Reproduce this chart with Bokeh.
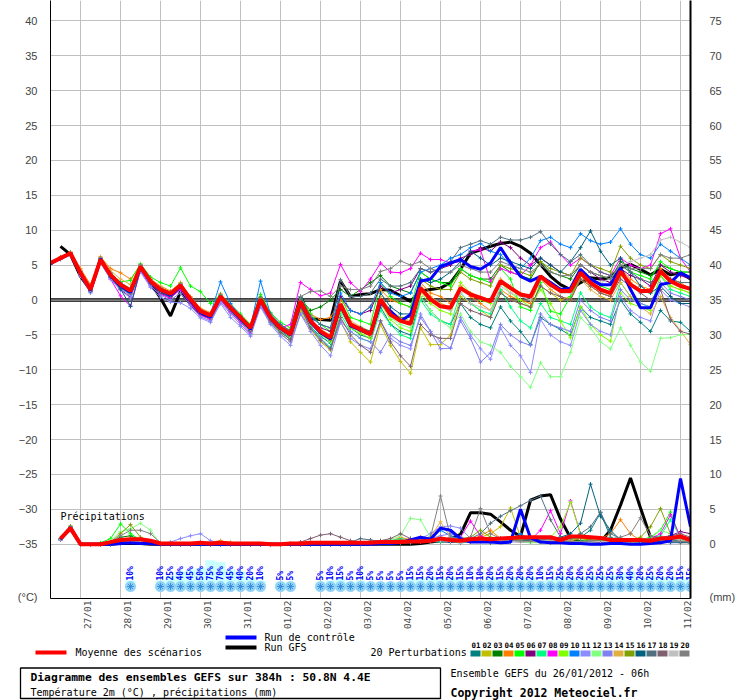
import math
from bokeh.plotting import figure
from bokeh.models import Range1d, FixedTicker, LinearAxis, Span
from bokeh.embed import file_html
from bokeh.resources import INLINE
from bokeh.core.properties import value

NAN = float("nan")
# time steps: hours since 26/01/2012 06h, every 6h up to 384h
hours = [6 * k for k in range(65)]
dates = ["27/01", "28/01", "29/01", "30/01", "31/01", "01/02", "02/02", "03/02",
         "04/02", "05/02", "06/02", "07/02", "08/02", "09/02", "10/02", "11/02"]
day_hours = [18 + 24 * i for i in range(16)]        # midnight of each day
y_ticks = list(range(-35, 41, 5))
mm_ticks = list(range(0, 76, 5))

# ---- temperatures (deg C) ----
mean_t = [5.3, 6.0, 6.7, 3.9, 1.5, 5.8, 3.6, 2.2, 1.3,
          4.8, 2.7, 1.5, 0.9, 2.1, 0.1, -1.6, -2.2, 0.5, -1.1, -2.5, -4.0,
          0.1, -2.5, -4.0, -4.9, -0.2, -3.0, -4.5, -5.4, -0.6, -3.5, -4.2, -4.9,
          0.1, -2.1, -3.0, -3.4, 1.7, 0.1, -0.9, -1.1, 1.7, 0.8, 0.3, -0.2, 2.7, 1.7, 0.8, 0.5,
          3.4, 2.2, 1.3, 1.3, 3.9, 2.5, 1.5, 1.0, 4.1, 2.2, 1.3, 1.3, 4.1, 2.7, 2.0, 1.6]
ctrl_t = [5.2, 6.0, 6.7, 3.8, 1.4, 5.9, 3.5, 2.0, 1.1,
          4.7, 2.6, 1.4, 0.7, 2.0, -0.1, -1.8, -2.4, 0.5, -1.2, -2.7, -4.2,
          0.0, -2.6, -4.1, -5.0, -0.4, -3.2, -4.7, -5.6, -0.8, -3.7, -4.3, -4.9,
          -0.4, -1.6, -3.0, -2.1, 2.7, 3.0, 4.8, 5.3, 5.8, 4.8, 4.4, 5.3, 7.5, 5.3, 3.4, 2.7,
          3.4, 2.5, 1.5, 1.7, 4.4, 3.0, 2.2, 2.2, 4.6, 1.5, -1.1, -1.1, 2.2, 2.5, 3.9, 3.2]
gfs_t = [NAN, 7.7, 6.5, 3.4, 1.4, 5.8, 3.4, 2.0, 1.0,
         4.6, 2.4, 0.3, -2.3, 1.2, -0.6, -2.0, -2.5, 0.3, -1.3, -2.8, -4.2,
         0.5, -2.8, -4.0, -4.5, 0.5, -2.7, -2.8, -2.9, 2.7, 0.5, 0.8, 0.9,
         1.5, 1.4, 0.6, -0.2, 1.3, 1.5, 1.7, 2.5, 4.4, 6.7, 7.2, 7.7, 8.1, 8.3, 7.7, 6.7,
         5.1, 3.4, 2.2, 1.5, 2.5, 3.2, 3.0, 3.2, 4.6, 5.1, 4.4, 3.6, 4.4, 3.6, 3.9, 3.0]

t01 = [5.2, 5.9, 6.6, 3.7, 1.3, 5.6, 3.3, 1.8, 0.8,
       4.5, 2.3, 1.0, 0.4, 1.6, -0.5, -2.0, -2.6, 0.0, -1.6, -3.0, -4.5,
       -0.5, -3.2, -4.6, -5.6, -1.2, -3.8, -5.2, -6.2, -1.5, -4.0, -5.0, -5.5,
       -1.0, -3.5, -4.5, -5.0, 0.5, -1.5, -3.0, -3.5, -0.5, -2.5, -3.5, -4.0, -1.0, -3.0, -4.5, -6.4,
       -2.5, -3.5, -4.2, -5.1, -1.0, -2.5, -3.0, -3.5, 0.0, -2.0, -3.2, -4.5, -1.5, -3.0, -3.2, -4.5]
t02 = [5.3, 6.1, 6.8, 4.2, 1.8, 6.0, 3.8, 2.4, 1.7,
       5.0, 3.0, 1.8, 1.2, 2.5, 0.4, -1.4, -2.0, 0.6, -1.3, -2.8, -4.4,
       -0.3, -3.0, -4.8, -6.0, -1.5, -4.2, -6.0, -7.2, -3.0, -6.0, -7.5, -8.9,
       -3.5, -6.5, -8.8, -10.5, -4.0, -6.4, -6.4, -5.0, 0.5, -0.5, -1.5, -2.5, 1.0, 0.0, -0.5, -1.0,
       2.0, 1.0, 0.0, 0.5, 3.0, 2.0, 1.0, 0.5, 3.5, 2.5, 1.5, 1.0, 3.5, 2.0, 1.5, 1.0]
t03 = [5.2, 6.0, 6.6, 3.8, 1.4, 5.7, 3.5, 2.1, 1.2,
       4.7, 2.6, 1.4, 0.8, 2.0, 0.0, -1.7, -2.3, 0.4, -1.2, -2.6, -4.1,
       0.0, -2.4, -3.8, -4.6, 0.2, -1.5, -1.0, 0.0, 1.5, 0.5, 1.5, 2.5,
       3.5, 2.0, 1.5, 1.0, 4.0, 3.0, 2.5, 2.5, 4.5, 3.5, 3.0, 3.0, 5.0, 4.0, 3.5, 3.0,
       5.5, 4.0, 3.5, 3.0, 5.0, 4.0, 3.5, 3.0, 5.5, 4.5, 4.0, 3.5, 5.0, 4.5, 4.0, 4.0]
t04 = [5.4, 6.2, 6.9, 4.5, 2.2, 6.2, 4.5, 3.9, 3.0,
       5.0, 3.0, 2.0, 1.3, 2.4, 0.5, -1.2, -1.8, 0.9, -0.8, -2.2, -3.6,
       0.4, -2.0, -3.5, -4.4, 0.0, -2.0, -2.8, -2.5, 0.0, -1.5, -2.0, -0.9,
       1.5, 0.0, -0.5, -1.0, 2.5, 1.0, 0.5, -0.5, 2.0, 0.5, -0.5, -1.5, 1.5, 0.5, 0.0, -0.5,
       3.0, 1.5, 0.5, 0.0, 3.5, 2.0, 1.0, 0.5, 4.5, 3.0, 2.0, 1.5, 4.5, 3.0, 2.5, 1.5]
t05 = [5.2, 5.9, 6.5, 3.6, 1.6, 5.9, 3.8, 2.6, 2.8,
       5.2, 3.3, 2.5, 2.0, 4.6, 2.0, 1.2, -0.5, 0.8, -0.6, -2.0, -3.5,
       0.8, -1.8, -3.2, -4.0, 0.5, -2.0, -3.5, -4.5, 0.5, -2.5, -3.0, -3.5,
       2.5, 0.5, -0.5, -1.0, 4.0, 3.0, 2.5, 2.0, 4.5, 3.5, 3.0, 2.5, 4.5, 3.0, -1.0, -1.5,
       2.5, -1.6, -2.0, 0.5, 3.5, 3.0, 2.0, 1.5, 5.0, 4.0, 3.5, 3.0, 5.5, 4.5, 4.0, 4.0]
t06 = [5.3, 6.0, 6.7, 3.8, 1.3, 5.7, 3.2, 1.5, 0.4,
       4.6, 2.4, 1.0, 0.2, 1.8, -0.4, -2.0, -2.6, 0.2, -1.4, -2.9, -4.4,
       -0.2, -2.8, -4.4, -5.4, -0.8, -3.2, -4.0, -4.5, 0.5, -1.5, -2.0, -1.5,
       2.0, 1.0, 1.5, 2.0, 4.5, 4.0, 4.5, 5.0, 6.0, 6.5, 7.5, 7.0, 8.3, 7.5, 6.0, 5.0,
       6.0, 5.0, 4.0, 3.5, 5.0, 4.0, 3.0, 2.5, 4.5, 3.5, 3.0, 2.0, 5.0, 4.0, 3.5, 3.0]
t07 = [5.2, 6.0, 6.5, 3.6, 1.3, 5.5, 3.3, 1.9, 1.0,
       4.4, 2.4, 1.2, 0.6, 1.8, -0.3, -1.9, -2.5, 0.2, -1.5, -2.9, -4.6,
       -0.4, -3.0, -4.5, -5.5, -1.0, -3.8, -5.5, -6.8, -2.0, -4.5, -5.5, -6.0,
       -1.5, -3.5, -5.0, -5.5, 0.0, -2.0, -3.0, -3.5, 1.0, -0.5, -1.5, -2.0, 1.5, -1.0, -3.0, -4.0,
       -0.5, -2.5, -3.0, -3.5, 1.0, -1.0, -2.0, -2.5, 2.5, 0.5, -0.5, -1.0, 3.5, 1.5, 1.0, 0.5]
t08 = [5.2, 5.9, 6.6, 3.5, 1.2, 5.4, 3.0, 0.6, -0.9,
       4.2, 2.0, 0.8, 0.3, 1.5, -0.6, -2.2, -2.8, 0.0, -1.8, -3.2, -4.8,
       -0.6, -3.0, -4.0, -3.5, 2.5, 1.5, 0.6, 1.0, 5.1, 2.5, 1.2, 3.0,
       5.3, 4.0, 3.9, 4.5, 6.7, 5.8, 5.8, 5.3, 5.5, 7.0, 7.2, 2.7, 4.5, 4.0, 3.5, 5.0,
       7.5, 8.3, 6.5, 5.0, 6.0, 5.0, 4.0, 3.5, 6.0, 5.0, 4.5, 5.0, 9.5, 10.2, 6.0, 4.0]
t09 = [5.3, 6.1, 6.7, 4.0, 1.6, 5.9, 3.7, 2.3, 1.4,
       4.9, 2.8, 1.6, 1.0, 2.3, 0.2, -1.5, -2.1, 0.6, -1.0, -2.4, -3.9,
       0.2, -2.3, -3.9, -4.8, -0.3, -3.0, -4.8, -6.0, -1.5, -4.0, -4.8, -5.5,
       -0.5, -2.8, -4.0, -4.5, 1.0, -0.5, -1.5, -2.0, 2.5, 1.0, 0.0, -0.5, 2.5, 1.0, 0.0, -1.0,
       1.5, -0.5, -3.0, -5.4, -1.0, -3.5, -5.0, -5.9, 1.0, -0.5, -1.0, -1.5, 3.5, 2.0, 1.5, 1.0]
t10 = [5.3, 6.0, 6.8, 4.0, 1.5, 6.0, 3.7, 2.3, 1.2,
       5.0, 2.8, 1.5, 0.9, 2.2, 0.0, -1.5, -2.0, 2.6, -0.5, -2.3, -3.8,
       2.7, -2.0, -3.5, -4.5, 0.5, -2.5, -3.5, -4.0, 1.0, -1.5, -2.0, -1.0,
       2.5, 1.0, 0.5, 1.0, 4.0, 4.5, 5.0, 6.0, 6.5, 7.5, 8.1, 7.0, 6.5, 5.0, 4.5, 6.0,
       8.5, 9.0, 8.0, 7.5, 9.5, 8.5, 8.0, 8.3, 10.2, 8.0, 6.5, 6.0, 8.0, 7.0, 6.0, 5.0]
t11 = [5.1, 5.8, 6.4, 3.4, 1.0, 5.3, 3.0, 1.4, 0.3,
       4.0, 1.8, 0.4, -0.3, -0.4, -1.2, -2.6, -3.2, -0.5, -2.5, -3.8, -5.2,
       -1.0, -3.5, -5.2, -6.5, -2.0, -4.5, -6.5, -8.0, -3.2, -5.5, -6.5, -7.0,
       -3.0, -5.5, -6.5, -7.0, -2.0, -4.5, -6.0, -6.9, -2.5, -5.0, -7.0, -8.5, -4.0, -6.5, -8.0, -10.4,
       -2.8, -5.0, -6.0, -6.5, -1.5, -3.5, -4.5, -5.0, 0.5, -1.5, -2.5, -3.0, 1.5, 0.0, -0.5, -1.0]
t12 = [5.3, 6.0, 6.6, 3.8, 1.5, 5.8, 3.6, 2.2, 1.4,
       4.8, 2.7, 1.5, 0.8, 2.0, 0.0, -1.7, -2.3, 0.4, -1.2, -2.7, -4.2,
       -0.2, -2.8, -4.3, -5.3, -0.8, -3.5, -5.0, -6.0, -1.5, -3.8, -4.5, -5.0,
       -0.5, -2.5, -3.5, -4.0, 0.5, -1.5, -3.0, -4.0, -2.0, -4.5, -6.0, -6.5, -7.5, -9.5, -11.0, -12.5,
       -9.0, -11.0, -11.0, -7.5, -2.5, -4.0, -6.0, -7.0, -4.0, -6.5, -8.9, -10.2, -5.5, -5.4, -5.0, -4.9]
t13 = [5.2, 5.9, 6.5, 3.6, 1.1, 5.5, 3.2, 1.6, 0.7,
       4.3, 2.1, 0.7, 0.0, 1.0, -0.8, -2.4, -3.0, -0.3, -2.0, -3.5, -5.0,
       -0.8, -3.3, -4.9, -6.0, -2.0, -4.0, -5.5, -7.0, -3.0, -4.5, -5.5, -6.0,
       -7.5, -5.0, -6.0, -6.5, -2.5, -4.5, -7.0, -6.9, -3.0, -5.5, -8.9, -7.6, -3.5, -5.0, -6.0, -6.5,
       -2.0, -3.5, -4.0, -4.5, 0.0, -1.5, -2.5, -3.0, 1.5, 0.0, -0.5, -1.0, 2.5, 1.0, 0.5, 0.0]
t14 = [5.4, 6.1, 6.8, 4.3, 2.0, 6.1, 4.2, 3.0, 2.2,
       5.1, 3.0, 1.9, 1.2, 2.4, 0.3, -1.3, -1.9, 0.7, -0.9, -2.3, -3.8,
       0.3, -2.2, -3.7, -4.7, -0.4, -3.0, -4.2, -5.0, -0.5, -3.0, -3.8, -4.5,
       0.5, -1.5, -2.5, -3.0, 2.0, 0.5, -0.5, -1.0, 2.0, 1.0, 0.5, 0.0, 3.0, 2.0, 1.0, 0.5,
       3.0, 1.5, 0.5, 0.0, 3.0, 1.5, 0.5, 0.0, 2.5, 0.5, -1.0, -2.0, 0.5, -2.5, -4.4, -6.4]
t15 = [5.3, 6.0, 6.7, 3.9, 1.6, 5.8, 3.5, 2.0, 1.0,
       4.7, 2.6, 1.3, 0.7, 1.9, -0.1, -1.8, -2.4, 0.3, -1.3, -2.7, -4.3,
       -0.1, -2.7, -4.2, -5.2, -0.6, -3.3, -4.8, -5.8, -1.2, -3.8, -4.5, -5.2,
       0.0, -2.0, -2.5, -2.5, 3.0, 2.0, 1.5, 1.5, 4.0, 3.0, 2.5, 2.0, 5.0, 4.5, 4.0, 3.5,
       5.5, 4.5, 4.0, 3.5, 6.0, 5.0, 4.5, 4.0, 7.7, 6.0, 5.0, 4.5, 6.5, 5.5, 5.0, 4.5]
t16 = [5.2, 5.9, 6.6, 3.7, 1.3, 5.6, 3.3, 1.6, -0.9,
       4.5, 2.4, 1.1, 0.5, 1.8, -0.2, -1.9, -2.5, 0.3, -1.3, -2.8, -4.3,
       0.0, -2.6, -4.1, -5.0, -0.5, -3.0, -4.5, -5.5, -1.0, -3.5, -4.0, -4.5,
       1.0, -1.0, -2.0, -2.0, 3.0, 2.5, 3.0, 4.0, 5.5, 7.0, 6.0, 5.0, 6.0, 5.5, 5.0, 4.5,
       6.0, 5.0, 4.0, 5.5, 7.5, 9.9, 7.0, 5.0, 6.0, 4.0, 2.0, 1.0, 2.0, 0.5, -0.5, -0.5]
t17 = [5.3, 6.1, 6.8, 4.1, 1.7, 6.0, 3.9, 2.5, 1.6,
       5.0, 2.9, 1.7, 1.1, 2.3, 0.3, -1.4, -2.0, 0.7, -0.9, -2.3, -3.8,
       0.3, -2.2, -3.6, -4.5, 0.2, -2.3, -3.5, -4.0, 2.9, 0.5, 0.5, 1.0,
       3.0, 2.0, 2.0, 2.5, 4.5, 4.0, 4.5, 5.5, 7.5, 8.0, 8.5, 8.0, 9.0, 8.6, 8.6, 9.0,
       9.8, 8.0, 6.5, 5.5, 6.5, 5.0, 4.0, 3.5, 5.0, 4.0, 3.0, 2.5, 4.0, 3.0, 2.5, 2.5]
t18 = [5.2, 5.9, 6.5, 3.7, 1.4, 5.6, 3.4, 2.0, 1.0,
       4.6, 2.5, 1.2, 0.6, 1.8, -0.2, -1.9, -2.5, 0.2, -1.4, -2.8, -4.4,
       -0.2, -3.0, -4.6, -5.7, -1.0, -4.0, -5.8, -7.0, -2.5, -5.0, -6.5, -7.5,
       -3.0, -6.0, -8.0, -9.5, -3.5, -5.0, -5.5, -5.5, -0.5, -1.5, -2.0, -2.5, 1.0, 0.0, -0.5, -1.0,
       2.0, 1.0, 0.5, 0.0, 3.0, 2.0, 1.0, 0.5, 3.0, 2.0, 1.0, 0.0, 1.5, -2.8, -4.5, -4.9]
t19 = [5.3, 6.0, 6.7, 3.9, 1.5, 5.8, 3.6, 2.1, 1.2,
       4.8, 2.7, 1.4, 0.8, 2.0, 0.0, -1.7, -2.3, 0.4, -1.2, -2.6, -4.1,
       0.0, -2.6, -4.1, -5.0, -0.4, -3.2, -4.6, -5.5, -0.8, -3.6, -4.3, -5.0,
       0.0, -2.0, -3.0, -3.5, 1.5, 0.0, -1.0, -1.5, 1.0, -0.5, -1.0, -1.5, 2.0, 1.0, 0.5, 0.0,
       3.0, 2.0, 1.0, 1.0, 4.0, 3.0, 2.5, 3.0, 5.0, 5.5, 6.0, 6.5, 8.6, 9.0, 8.3, 7.5]
t20 = [5.3, 6.1, 6.7, 4.0, 1.7, 6.0, 3.8, 2.4, 1.5,
       5.0, 2.9, 1.7, 1.1, 2.2, 0.2, -1.5, -2.1, 0.6, -1.0, -2.4, -3.9,
       0.2, -2.4, -3.9, -4.8, 0.5, 1.2, 1.3, 0.5, 2.0, 1.5, 1.5, 2.0,
       4.1, 4.5, 5.6, 5.0, 5.5, 4.5, 4.0, 4.0, 5.0, 4.5, 4.0, 4.0, 5.5, 5.0, 4.5, 4.0,
       5.0, 4.0, 3.5, 3.5, 5.0, 4.0, 3.5, 3.0, 5.0, 4.5, 4.5, 4.5, 6.5, 6.0, 6.0, 6.5]

# ---- 6h precipitation (mm), steps 6h..384h ----
mean_p = [0.8, 2.3, 0.0, 0.0, 0.0, 0.3, 0.6, 0.7, 0.7, 0.5, 0.1, 0.1, 0.1, 0.1, 0.2, 0.1,
          0.2, 0.1, 0.1, 0.1, 0.1, 0.0, 0.0, 0.1, 0.1, 0.2, 0.2, 0.2, 0.2, 0.2, 0.2, 0.2,
          0.3, 0.3, 0.3, 0.4, 0.4, 0.5, 0.8, 0.6, 0.5, 0.7, 0.8, 0.7, 0.8, 0.9, 1.0, 1.0,
          1.0, 1.0, 0.6, 1.1, 1.1, 1.0, 0.9, 0.6, 0.6, 0.6, 0.6, 0.5, 0.8, 0.9, 1.1, 0.6]
ctrl_p = [0.7, 2.4, 0, 0, 0, 0, 0.1, 0.2, 0.1, 0.1, 0, 0, 0, 0, 0, 0,
          0, 0, 0, 0, 0, 0, 0, 0, 0, 0, 0, 0, 0, 0, 0, 0,
          0.1, 0.1, 0.2, 0.6, 1.0, 0.7, 2.3, 2.0, 0.8, 0.3, 0.3, 0.3, 0.2, 0.3, 5.0, 0.9,
          0.3, 0.2, 0.2, 0.1, 0.1, 0.0, 0.0, 0.1, 0.1, 0.0, 0.0, 0.1, 0.2, 0.5, 9.4, 2.5]
gfs_p = [0.7, 2.2, 0, 0, 0, 0, 0.1, 0.1, 0.1, 0, 0, 0, 0, 0, 0, 0,
         0, 0, 0, 0, 0, 0, 0, 0, 0, 0, 0, 0, 0, 0, 0, 0,
         0, 0, 0, 0, 0.1, 0.3, 0.5, 0.8, 1.4, 4.5, 4.5, 4.3, 3.2, 2.0, 1.1, 6.3,
         6.9, 7.1, 3.6, 0.9, 0.3, 0.2, 0.3, 2.0, 5.6, 9.5, 5.2, 1.0, 0.8, 0.7, 0.6, 0.3]
p01 = [0.7, 2.3, 0, 0, 0, 0, 0.2, 0.4, 0.3, 0.2, 0, 0, 0, 0, 0, 0, 0, 0, 0, 0, 0, 0, 0, 0,
       0, 0, 0, 0.1, 0.1, 0.1, 0.1, 0.2, 0.2, 0.3, 0.1, 0.2, 0.3, 0.4, 0.5, 0.3,
       0.2, 0.3, 0.4, 0.2, 0.3, 0.5, 0.6, 0.4, 0.3, 0.2, 0.4, 0.5, 1.0, 2.0, 4.5, 1.0,
       0.4, 0.3, 0.2, 0.3, 0.5, 0.4, 0.3, 0.2]
p02 = [0.8, 2.6, 0, 0, 0, 0.1, 0.5, 0.8, 0.5, 0.3, 0, 0, 0, 0, 0, 0, 0, 0, 0, 0, 0, 0, 0, 0,
       0, 0, 0, 0, 0, 0.1, 0.1, 0.2, 0.3, 0.2, 0.2, 0.3, 0.4, 0.5, 0.5, 0.4,
       0.3, 0.6, 1.0, 1.5, 2.5, 5.2, 1.0, 0.5, 0.4, 0.3, 0.2, 0.5, 0.4, 0.3, 0.3, 0.2,
       0.3, 0.3, 0.2, 0.3, 0.4, 0.3, 0.2, 0.2]
p03 = [0.7, 2.2, 0, 0, 0, 0.2, 1.0, 1.2, 0.6, 0.3, 0, 0, 0, 0, 0, 0, 0.1, 0, 0, 0, 0, 0, 0, 0,
       0, 0, 0, 0, 0.1, 0.2, 0.3, 0.3, 0.4, 0.5, 0.3, 0.3, 0.5, 0.4, 0.3, 0.5,
       0.6, 0.8, 0.9, 0.9, 0.8, 0.7, 0.5, 0.5, 0.7, 0.9, 0.6, 0.8, 0.5, 0.4, 0.3, 0.4,
       0.5, 0.4, 0.3, 0.3, 0.4, 0.5, 0.4, 0.3]
p04 = [0.8, 2.4, 0, 0, 0, 0, 0.3, 0.5, 0.4, 0.2, 0, 0, 0, 0, 0.1, 0.3, 0.5, 0.2, 0, 0, 0, 0, 0, 0,
       0, 0, 0, 0, 0, 0, 0.1, 0.1, 0.2, 0.4, 1.0, 0.6, 1.0, 0.5, 0.8, 0.5,
       0.4, 0.6, 1.2, 2.0, 0.8, 0.5, 0.4, 0.3, 0.2, 0.3, 0.4, 0.3, 0.2, 0.4, 0.8, 1.5,
       3.5, 1.5, 0.5, 0.3, 0.2, 0.4, 0.5, 0.3]
p05 = [0.7, 2.5, 0, 0, 0.2, 0.8, 2.9, 1.5, 0.6, 0.3, 0, 0, 0, 0, 0, 0, 0, 0, 0, 0, 0, 0, 0, 0,
       0, 0, 0, 0, 0, 0.1, 0.2, 0.3, 0.3, 0.4, 0.6, 0.5, 0.4, 0.7, 0.9, 0.6,
       0.5, 0.4, 0.5, 0.6, 0.8, 0.6, 0.5, 0.7, 0.6, 0.5, 0.4, 0.3, 0.4, 0.5, 0.3, 0.3,
       0.4, 0.5, 0.6, 1.0, 2.0, 4.6, 0.8, 0.5]
p06 = [0.7, 2.3, 0, 0, 0, 0, 0.2, 0.4, 0.3, 0.2, 0, 0, 0, 0, 0, 0, 0, 0, 0, 0, 0, 0, 0, 0,
       0, 0, 0, 0, 0, 0, 0.1, 0.1, 0.2, 0.2, 0.3, 0.3, 0.4, 0.4, 0.3, 0.3,
       0.5, 0.6, 0.8, 0.7, 0.5, 0.4, 0.6, 0.8, 0.7, 0.6, 0.5, 0.4, 0.3, 0.5, 0.4, 0.4,
       0.3, 0.4, 0.5, 0.6, 0.8, 1.2, 1.8, 1.5]
p07 = [0.6, 2.1, 0, 0, 0, 0, 0.3, 0.6, 0.5, 0.3, 0, 0, 0, 0, 0, 0, 0, 0, 0, 0, 0, 0, 0, 0,
       0, 0, 0, 0, 0, 0, 0.1, 0.2, 0.3, 0.5, 0.8, 0.6, 0.5, 0.4, 0.3, 0.4,
       0.5, 0.7, 0.9, 0.6, 0.5, 0.8, 1.0, 0.7, 0.6, 0.5, 0.4, 0.8, 0.9, 0.7, 0.5, 0.4,
       0.3, 0.4, 0.5, 0.7, 1.2, 3.5, 1.0, 0.6]
p08 = [0.6, 2.0, 0, 0, 0, 0, 0.1, 0.3, 0.2, 0.1, 0, 0, 0, 0, 0, 0, 0, 0, 0, 0, 0, 0, 0, 0,
       0, 0, 0, 0, 0, 0, 0, 0.1, 0.2, 0.3, 0.4, 0.5, 0.4, 0.5, 0.7, 0.8,
       1.0, 3.3, 1.2, 0.6, 0.5, 0.4, 0.5, 0.6, 2.0, 4.8, 1.5, 6.2, 1.5, 0.6, 0.4, 0.3,
       0.4, 0.3, 0.5, 0.8, 1.5, 4.2, 1.0, 0.6]
p09 = [0.7, 2.4, 0, 0, 0, 0.1, 0.4, 0.7, 0.5, 0.2, 0, 0, 0, 0, 0, 0, 0, 0, 0, 0, 0, 0, 0, 0,
       0, 0, 0, 0, 0, 0, 0.1, 0.1, 0.2, 0.3, 0.3, 0.4, 0.5, 0.6, 0.6, 0.5,
       0.4, 0.5, 0.6, 0.5, 0.7, 0.9, 0.6, 0.5, 0.8, 1.0, 2.5, 6.0, 1.5, 0.6, 0.4, 0.3,
       0.3, 0.2, 0.3, 0.4, 0.6, 0.5, 0.4, 0.3]
p10 = [0.7, 2.2, 0, 0, 0, 0, 0.2, 0.3, 0.3, 0.2, 0, 0, 0, 0, 0.2, 0.1, 0, 0, 0, 0, 0, 0, 0, 0,
       0, 0, 0, 0, 0, 0, 0, 0.1, 0.1, 0.2, 0.4, 0.8, 0.6, 0.9, 2.0, 1.2,
       0.7, 0.5, 0.4, 0.6, 0.5, 0.8, 1.5, 0.7, 0.5, 0.4, 0.3, 0.3, 0.4, 0.3, 0.2, 0.2,
       0.3, 0.4, 0.3, 0.2, 0.4, 0.6, 0.5, 0.4]
p11 = [0.6, 2.1, 0, 0, 0, 0, 0.2, 0.4, 0.4, 0.3, 0.1, 0.3, 0.8, 1.2, 1.5, 0.5, 0.1, 0, 0, 0, 0, 0, 0, 0,
       0, 0, 0, 0, 0, 0, 0.1, 0.2, 0.3, 0.4, 0.5, 0.6, 0.8, 1.5, 2.5, 2.6,
       2.3, 0.8, 0.5, 0.4, 0.3, 0.3, 0.4, 0.5, 0.4, 0.3, 0.2, 0.3, 0.3, 0.2, 0.2, 0.3,
       0.4, 0.3, 0.2, 0.2, 0.3, 0.4, 0.3, 0.2]
p12 = [0.7, 2.3, 0, 0, 0, 0.5, 1.8, 2.2, 3.0, 2.0, 0, 0, 0, 0, 0, 0, 0, 0, 0, 0, 0, 0, 0, 0,
       0, 0, 0, 0, 0, 0, 0.1, 0.3, 0.4, 0.6, 1.2, 3.7, 3.5, 1.0, 0.6, 0.4,
       0.3, 0.4, 0.3, 0.5, 0.6, 0.5, 0.3, 0.2, 0.2, 0.3, 0.2, 0.2, 0.3, 0.2, 0.3, 0.3,
       0.4, 0.5, 0.6, 0.8, 2.0, 1.5, 0.6, 0.4]
p13 = [0.6, 2.2, 0, 0, 0, 0, 0.2, 0.3, 0.3, 0.2, 0, 0, 0, 0, 0.3, 0.2, 0, 0, 0, 0, 0, 0, 0, 0,
       0, 0, 0, 0, 0, 0, 0.1, 0.1, 0.2, 0.3, 0.4, 0.5, 0.6, 0.8, 1.2, 1.5,
       1.0, 0.6, 0.5, 0.4, 0.3, 0.4, 0.5, 0.4, 0.3, 0.3, 0.2, 0.2, 0.3, 0.2, 0.2, 0.2,
       0.3, 0.2, 0.2, 0.3, 0.3, 0.2, 0.2, 0.2]
p14 = [0.8, 2.5, 0, 0, 0, 0, 0.4, 0.6, 0.4, 0.2, 0, 0, 0, 0, 0, 0, 0.4, 0.3, 0, 0, 0, 0, 0, 0,
       0, 0, 0, 0, 0, 0, 0.1, 0.2, 0.5, 0.4, 0.6, 0.8, 0.9, 1.0, 3.2, 1.0,
       0.6, 0.5, 0.4, 0.7, 0.8, 0.6, 0.5, 0.5, 0.6, 0.5, 0.4, 0.6, 0.8, 0.7, 0.5, 0.4,
       0.3, 0.3, 0.2, 0.3, 0.4, 0.3, 0.5, 0.4]
p15 = [0.7, 2.6, 0, 0, 0, 0.3, 1.5, 2.8, 1.0, 0.4, 0, 0, 0, 0, 0, 0, 0, 0, 0, 0, 0, 0, 0, 0,
       0, 0, 0, 0, 0, 0, 0.1, 0.2, 0.3, 0.5, 0.6, 0.4, 0.5, 0.4, 0.5, 0.6,
       0.8, 1.0, 2.0, 1.0, 0.8, 0.7, 0.6, 0.5, 0.6, 0.7, 0.8, 1.2, 0.8, 0.6, 0.5, 0.4,
       0.4, 0.5, 1.0, 2.5, 5.1, 1.5, 0.6, 0.4]
p16 = [0.7, 2.3, 0, 0, 0, 0, 0.2, 0.4, 0.4, 0.2, 0, 0, 0, 0, 0, 0, 0, 0, 0, 0, 0, 0, 0, 0,
       0, 0, 0, 0, 0, 0, 0.1, 0.1, 0.2, 0.2, 0.3, 0.3, 0.4, 0.5, 0.4, 0.3,
       0.3, 0.4, 0.5, 0.6, 0.5, 0.4, 0.5, 0.6, 0.7, 0.8, 1.0, 1.5, 3.0, 8.6, 4.0, 2.0,
       0.6, 0.4, 0.3, 0.3, 0.4, 0.3, 0.3, 0.2]
p17 = [0.8, 2.4, 0, 0, 0, 0, 0.3, 0.5, 0.4, 0.2, 0, 0, 0, 0, 0, 0, 0, 0, 0, 0, 0, 0, 0, 0,
       0, 0, 0, 0, 0, 0.3, 0.8, 0.6, 0.4, 0.3, 0.3, 0.4, 0.5, 0.6, 0.5, 0.4,
       0.5, 0.8, 1.5, 3.0, 4.0, 4.8, 5.5, 6.3, 6.9, 3.5, 1.0, 0.8, 1.5, 2.5, 4.6, 1.5,
       0.8, 0.6, 0.5, 0.4, 0.6, 0.5, 0.4, 0.3]
p18 = [0.7, 2.2, 0, 0, 0, 0, 0.3, 0.5, 0.4, 0.2, 0, 0, 0, 0, 0, 0, 0, 0, 0, 0, 0, 0, 0, 0.1,
       0.3, 0.8, 1.3, 1.5, 1.0, 0.5, 0.3, 0.4, 0.5, 0.8, 1.5, 0.8, 0.5, 0.4, 0.5, 0.4,
       0.3, 0.4, 0.5, 0.6, 0.5, 0.4, 0.3, 0.4, 0.5, 0.4, 0.3, 0.3, 0.4, 0.3, 0.3, 0.3,
       0.4, 0.5, 0.6, 0.8, 1.0, 1.2, 1.5, 1.0]
p19 = [0.7, 2.3, 0, 0, 0, 0, 0.2, 0.4, 0.3, 0.2, 0, 0, 0, 0, 0, 0, 0, 0, 0, 0, 0, 0, 0, 0,
       0, 0, 0, 0, 0, 0, 0, 0.1, 0.2, 0.2, 0.3, 0.3, 0.4, 0.4, 0.5, 0.4,
       0.3, 0.4, 0.5, 0.6, 0.5, 0.4, 0.3, 0.4, 0.5, 0.6, 0.5, 0.4, 0.3, 0.3, 0.4, 0.4,
       0.5, 0.6, 0.5, 0.4, 0.6, 0.8, 0.6, 0.5]
p20 = [0.8, 2.5, 0, 0, 0, 0.3, 1.2, 2.0, 2.0, 1.5, 0.2, 0, 0, 0, 0, 0, 0, 0, 0, 0, 0, 0, 0, 0,
       0, 0, 0, 0, 0, 0, 0.1, 0.2, 0.3, 0.4, 0.6, 0.5, 0.6, 1.0, 6.9, 1.0,
       0.6, 1.0, 5.1, 1.5, 0.8, 0.6, 0.5, 0.4, 0.6, 0.7, 0.5, 0.4, 0.3, 0.5, 0.6, 0.8,
       1.0, 1.5, 3.8, 1.2, 0.6, 0.5, 0.4, 0.3]

pert_colors = ["#008080", "#c0c000", "#008000", "#ff8000", "#00ff00", "#800080", "#00ff80",
               "#ff00ff", "#80ff00", "#0080ff", "#8c8cff", "#80ff80", "#8080f0", "#e0b040",
               "#80a000", "#006080", "#507080", "#806070", "#c0c0c0", "#808080"]
pert_t = [t01, t02, t03, t04, t05, t06, t07, t08, t09, t10,
          t11, t12, t13, t14, t15, t16, t17, t18, t19, t20]
pert_p = [p01, p02, p03, p04, p05, p06, p07, p08, p09, p10,
          p11, p12, p13, p14, p15, p16, p17, p18, p19, p20]

# snow probability (%) per time step index
snow_step = [8, 11, 12, 13, 14, 15, 16, 17, 18, 19, 20, 21, 23, 24,
             27, 28, 29, 30, 31, 32, 33, 34, 35, 36, 37, 38, 39, 40, 41, 42, 43, 44, 45,
             46, 47, 48, 49, 50, 51, 52, 53, 54, 55, 56, 57, 58, 59, 60, 61, 62, 63, 64]
snow_pct = [10, 10, 25, 40, 45, 50, 75, 70, 45, 40, 20, 10, 5, 5,
            5, 10, 15, 5, 10, 5, 5, 5, 5, 15, 15, 20, 15, 20, 15, 10, 10, 20, 15,
            20, 20, 20, 10, 15, 25, 20, 20, 25, 25, 25, 30, 40, 20, 25, 20, 20, 15, 15]

PRECIP_BASE = -35.0   # 0 mm on the right axis
MONO = "DejaVu Sans Mono"
Y0, Y1 = -42.786, 42.929

# ------------------------------------------------------------------
p = figure(width=740, height=632, x_range=Range1d(0, 384), y_range=Range1d(Y0, Y1),
           output_backend="svg", toolbar_location=None,
           min_border_left=50, min_border_right=50, min_border_top=0, min_border_bottom=32)
p.outline_line_color = None
p.background_fill_color = "white"
p.border_fill_color = "white"
p.extra_y_ranges = {"mm": Range1d(Y0 + 35, Y1 + 35)}

# left axis (deg C) with the unit written under it
p.yaxis.ticker = FixedTicker(ticks=y_ticks + [-42.6])
p.yaxis.major_label_overrides = {-42.6: "(°C)"}
p.yaxis.major_label_text_font = "Liberation Sans"
p.yaxis.major_label_text_font_size = "11px"
p.yaxis.major_label_standoff = 13
p.yaxis.axis_line_color = "black"
p.yaxis.major_tick_line_color = None
p.yaxis.minor_tick_line_color = None
p.yaxis.major_tick_out = 0
p.yaxis.major_tick_in = 0
p.yaxis.minor_tick_out = 0

ra = LinearAxis(y_range_name="mm", ticker=FixedTicker(ticks=mm_ticks + [-7.6]))
ra.major_label_overrides = {-7.6: "(mm)"}
ra.major_label_text_font = "Liberation Sans"
ra.major_label_text_font_size = "11px"
ra.major_label_standoff = 19
ra.axis_line_color = "black"
ra.axis_line_width = 2
ra.major_tick_line_color = None
ra.minor_tick_line_color = None
ra.major_tick_out = 0
ra.major_tick_in = 0
ra.minor_tick_out = 0
p.add_layout(ra, "right")

label_ticks = [h + 4 for h in day_hours]
p.xaxis.ticker = FixedTicker(ticks=label_ticks)
p.xaxis.major_label_overrides = {t: d for t, d in zip(label_ticks, dates)}
p.xaxis.major_label_orientation = math.pi / 2
p.xaxis.major_label_text_font = MONO
p.xaxis.major_label_text_font_size = "9.5px"
p.xaxis.major_label_standoff = 2
p.xaxis.major_tick_line_color = None
p.xaxis.minor_tick_line_color = None
p.xaxis.major_tick_out = 0
p.xaxis.major_tick_in = 0
p.xaxis.minor_tick_out = 0
p.xaxis.axis_line_color = "black"

p.xgrid.ticker = FixedTicker(ticks=day_hours)
p.ygrid.ticker = FixedTicker(ticks=y_ticks)
p.xgrid.grid_line_color = "#c0c0c0"
p.ygrid.grid_line_color = "#c0c0c0"

# zero line (double)
for loc in (0.17, -0.17):
    p.add_layout(Span(location=loc, dimension="width", line_color="black",
                      line_width=1.3, level="underlay"))

# snow probability row
bar_base = -40.64
snow_h = [6 * k for k in snow_step]
p.quad(left=[h - 3 for h in snow_h], right=[h + 3 for h in snow_h],
       bottom=[bar_base - 0.6] * len(snow_h),
       top=[bar_base + v * 0.0443 for v in snow_pct],
       fill_color="#c8ffff", line_color=None)
p.scatter(snow_h, [-41.07] * len(snow_h), marker="circle", size=11,
          fill_color="#8fd4f7", line_color=None)
p.scatter(snow_h, [-41.07] * len(snow_h), marker="asterisk", size=7,
          line_color="#3f8fe0", line_width=1)
p.text(snow_h, [-40.21] * len(snow_h), text=[f"{v}%" for v in snow_pct],
       angle=math.pi / 2, text_align="left", text_baseline="middle",
       text_font=value(MONO), text_font_size=value("8px"), text_font_style="bold",
       text_color="#0000ff")

# GFS run (drawn under the perturbations)
p.line(hours, gfs_t, line_color="black", line_width=3)
p.line(hours[1:], [PRECIP_BASE + v for v in gfs_p], line_color="black", line_width=3)

# perturbations
for col, tv, pv in zip(pert_colors, pert_t, pert_p):
    p.line(hours, tv, line_color=col, line_width=1)
    p.scatter(hours, tv, marker="cross", size=4, line_color=col, line_width=1)
    py = [PRECIP_BASE + v for v in pv]
    p.line(hours[1:], py, line_color=col, line_width=1)
    p.scatter(hours[1:], py, marker="cross", size=4, line_color=col, line_width=1)

# control run and mean
p.line(hours, ctrl_t, line_color="#0000ff", line_width=3)
p.line(hours[1:], [PRECIP_BASE + v for v in ctrl_p], line_color="#0000ff", line_width=3)
p.line(hours, mean_t, line_color="#ff0000", line_width=4)
p.line(hours[1:], [PRECIP_BASE + v for v in mean_p], line_color="#ff0000", line_width=4)

p.text([6], [-31.0], text=["Précipitations"], text_align="left", text_baseline="middle",
       text_font=value(MONO), text_font_size=value("10px"), text_color="black")

# ------------------------------------------------------------------
# bottom strip: legend and captions (pixel coordinates of the strip, y downward)
q = figure(width=740, height=68, x_range=Range1d(0, 740), y_range=Range1d(700, 632),
           output_backend="svg", toolbar_location=None, x_axis_location=None,
           y_axis_location=None, min_border=0,
           min_border_left=0, min_border_right=0, min_border_top=0, min_border_bottom=0)
q.outline_line_color = None
q.grid.visible = False
q.background_fill_color = "white"
q.border_fill_color = "white"

legend_names = ["Run de contrôle", "Run GFS", "Moyenne des scénarios"]
legend_colors = ["#0000ff", "black", "#ff0000"]
legend_sw_x = [225, 225, 35]
legend_y = [637, 647, 652]
q.quad(left=legend_sw_x, right=[x + 31 for x in legend_sw_x],
       top=[y - 2 for y in legend_y], bottom=[y + 2 for y in legend_y],
       fill_color=legend_colors, line_color=None)
q.text([x + 39 for x in legend_sw_x[:2]] + [75], legend_y, text=legend_names,
       text_align="left", text_baseline="middle", text_font=value(MONO),
       text_font_size=value("10px"), text_color="black")

q.text([370], [652], text=["20 Perturbations"], text_align="left", text_baseline="middle",
       text_font=value(MONO), text_font_size=value("10px"), text_color="black")
sw_x = [470 + 11 * i for i in range(20)]
q.quad(left=sw_x, right=[x + 10 for x in sw_x], top=[650] * 20, bottom=[656] * 20,
       fill_color=pert_colors, line_color=None)
q.text([x + 5.5 for x in sw_x], [644] * 20, text=[f"{i + 1:02d}" for i in range(20)],
       text_align="center", text_baseline="middle", text_font=value(MONO),
       text_font_size=value("7.5px"), text_font_style="bold", text_color="black")

q.quad(left=[20], right=[440], top=[667.5], bottom=[698], fill_color=None,
       line_color="black", line_width=1.3)
q.text([30], [677], text=["Diagramme des ensembles GEFS sur 384h : 50.8N 4.4E"],
       text_align="left", text_baseline="middle", text_font=value(MONO),
       text_font_size=value("11.3px"), text_font_style="bold", text_color="black")
q.text([30], [692], text=["Température 2m (°C) , précipitations (mm)"],
       text_align="left", text_baseline="middle", text_font=value(MONO),
       text_font_size=value("10px"), text_color="black")
q.text([450], [672.5], text=["Ensemble GEFS du 26/01/2012 - 06h"],
       text_align="left", text_baseline="middle", text_font=value(MONO),
       text_font_size=value("10px"), text_color="black")
q.text([450], [692], text=["Copyright 2012 Meteociel.fr"],
       text_align="left", text_baseline="middle", text_font=value(MONO),
       text_font_size=value("11.5px"), text_font_style="bold", text_color="black")

# two independent roots stacked on the page (keeps the strip's frame full width)
open("out.html", "w").write(file_html([p, q], INLINE))
